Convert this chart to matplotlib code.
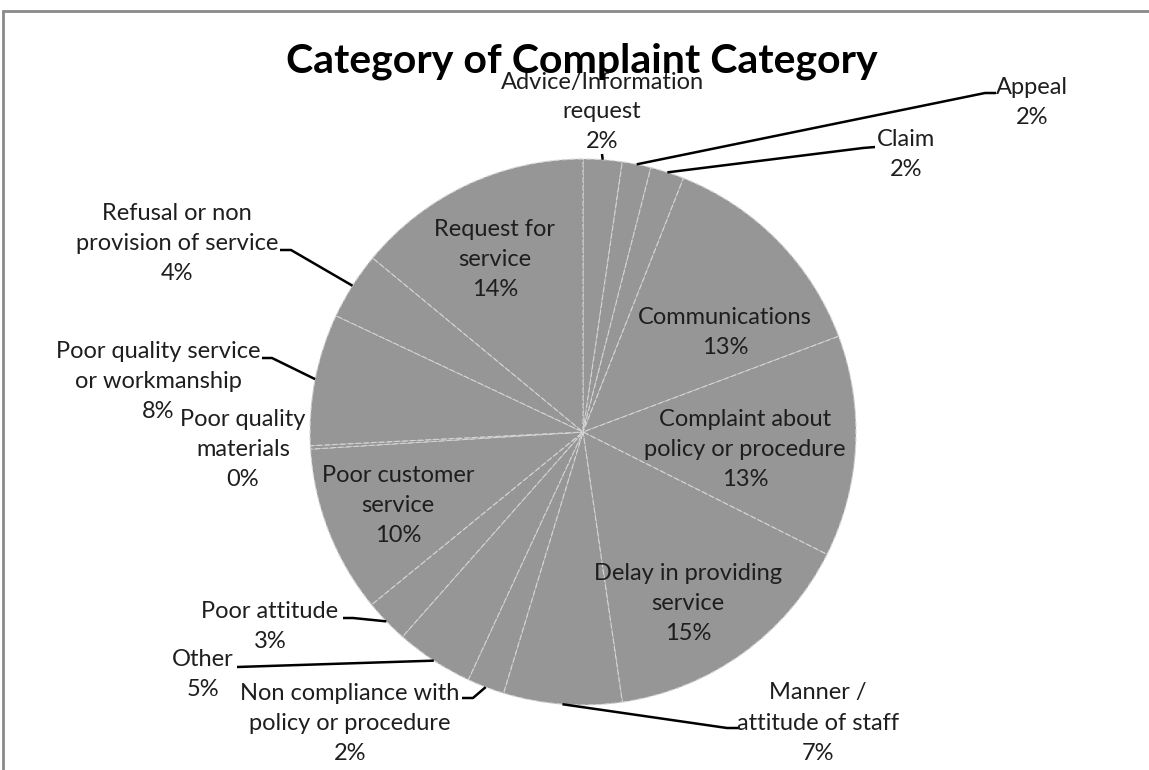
import numpy as np
import matplotlib
matplotlib.use("Agg")
import matplotlib.pyplot as plt
from matplotlib.patches import Rectangle

# ---------------- data ----------------
categories = [
    "Advice/Information\nrequest",
    "Appeal",
    "Claim",
    "Communications",
    "Complaint about\npolicy or procedure",
    "Delay in providing\nservice",
    "Manner /\nattitude of staff",
    "Non compliance with\npolicy or procedure",
    "Other",
    "Poor attitude",
    "Poor customer\nservice",
    "Poor quality\nmaterials",
    "Poor quality service\nor workmanship",
    "Refusal or non\nprovision of service",
    "Request for\nservice",
]
values = [2.3, 1.7, 2.0, 13.3, 13.1, 15.3, 7.0, 2.2, 4.6, 2.6, 9.9, 0.2, 7.8, 4.0, 14.0]
title = "Category of Complaint Category"

# ---------------- layout (pixel coords, y downward) ----------------
W, H = 1149, 770
CX, CY, R = 583, 432, 273
LINE = 30
# label center x, first line y
label_pos = [
    (602, 82), (1032, 87), (906, 140), (725, 318), (745, 420),
    (688, 573), (818, 693), (350, 693), (203, 660), (270, 612),
    (398, 476), (243, 420), (158, 352), (177, 213), (495, 229),
]
# leader polylines (after the pie point)
leaders = {
    0: [(602, 154)],
    1: [(985, 93), (996, 93)],
    2: [(863, 148), (875, 147)],
    6: [(727, 728), (740, 728)],
    7: [(473, 698), (462, 698)],
    8: [(237, 667)],
    9: [(353, 618), (343, 618)],
    12: [(272, 358), (262, 358)],
    13: [(291, 250), (280, 250)],
}

FONT = "Lato"
LABEL_SIZE = 17
TEXT_COLOR = "#1e1e1e"
PIE_COLOR = "#969696"

fig = plt.figure(figsize=(W / 100, H / 100), dpi=100)
ax = fig.add_axes([0, 0, 1, 1])

def Y(y):
    return H - y

wedges, _ = ax.pie(
    values, startangle=90, counterclock=False,
    center=(CX, Y(CY)), radius=R,
    colors=[PIE_COLOR] * len(values),
    wedgeprops=dict(edgecolor="#d4d4d4", linewidth=0.8, linestyle=(0, (5, 2))),
)
ax.set_xlim(0, W)
ax.set_ylim(0, H)
ax.set_aspect("equal")
ax.axis("off")

# border frame
ax.add_patch(Rectangle((3, -20), W + 40, Y(11) + 20, fill=False,
                       edgecolor="#8a8a8a", linewidth=2, zorder=0))

total = sum(values)
for i, (name, v) in enumerate(zip(categories, values)):
    x, y0 = label_pos[i]
    lines = name.split("\n")
    for k, ln in enumerate(lines):
        ax.text(x, Y(y0 + k * LINE), ln, ha="center", va="center",
                fontsize=LABEL_SIZE, family=FONT, color=TEXT_COLOR)
    pct = f"{v / total * 100:.0f}%"
    ax.text(x, Y(y0 + len(lines) * LINE), pct,
            ha="center", va="center", fontsize=LABEL_SIZE, family=FONT,
            color=TEXT_COLOR)
    if i in leaders:
        w = wedges[i]
        mid = np.deg2rad((w.theta1 + w.theta2) / 2)
        px = CX + R * np.cos(mid)
        py = Y(CY) + R * np.sin(mid)
        pts = [(px, py)] + [(a, Y(b)) for a, b in leaders[i]]
        xs, ys = zip(*pts)
        ax.plot(xs, ys, color="black", linewidth=1.8, solid_capstyle="butt")

ax.text(582, Y(72), title, ha="center", va="baseline", fontsize=29.5,
        family=FONT, fontweight="bold", color="black")

fig.savefig("out.png", dpi=100)
